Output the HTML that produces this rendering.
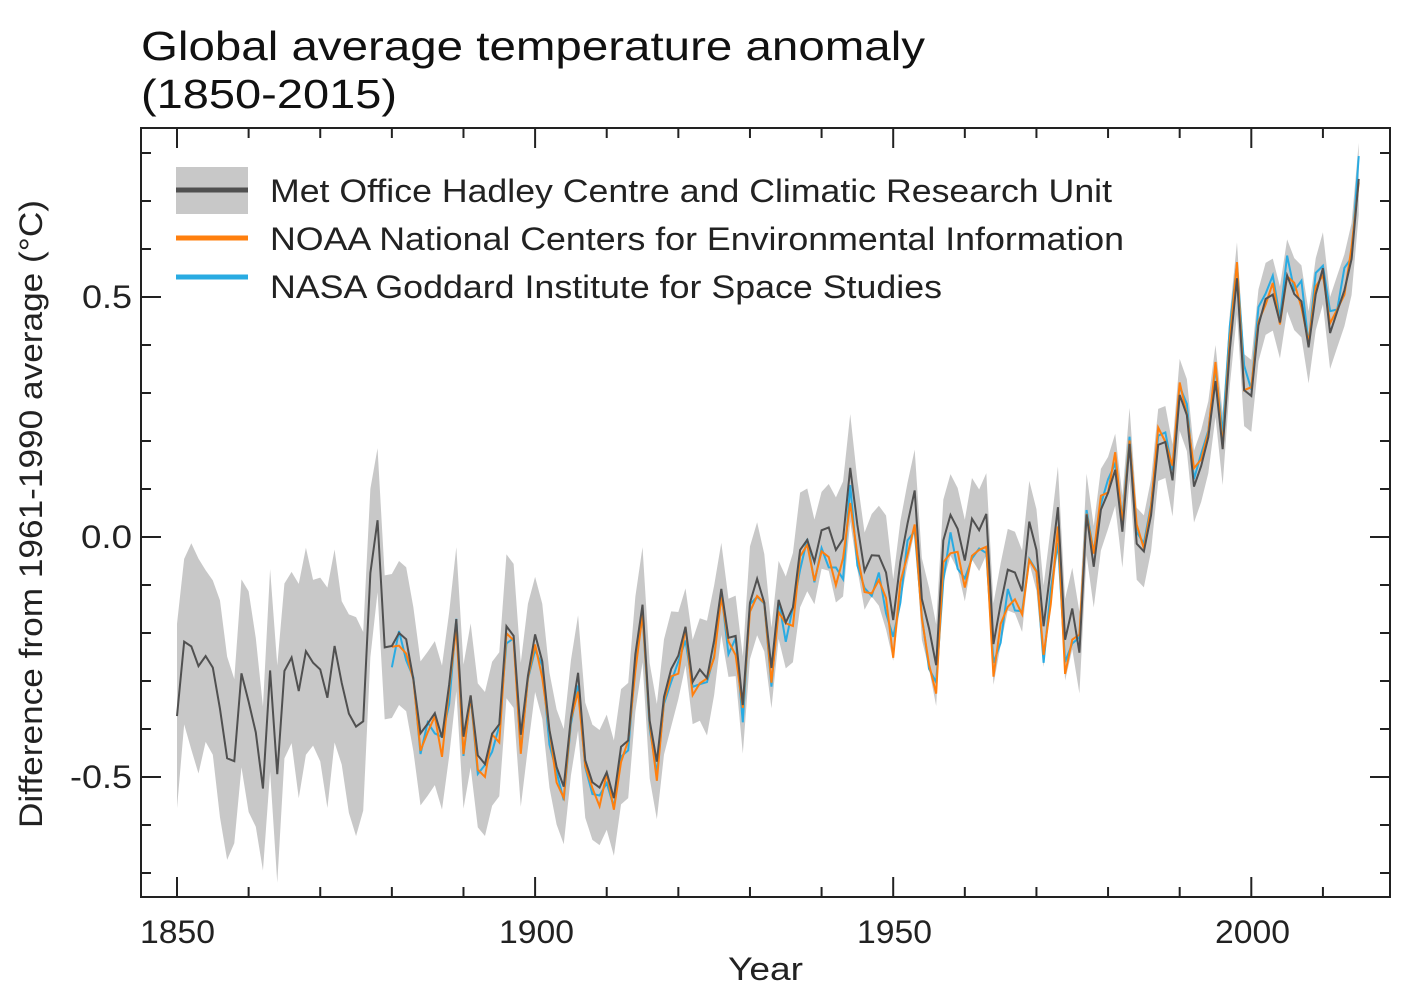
<!DOCTYPE html>
<html><head><meta charset="utf-8"><style>
html,body{margin:0;padding:0;background:#fff;}
svg{display:block;font-family:"Liberation Sans",sans-serif;}
</style></head><body>
<svg id="s" width="1403" height="998" viewBox="0 0 1403 998" xmlns="http://www.w3.org/2000/svg">
<text x="141" y="60" font-size="41" fill="#111" textLength="784" lengthAdjust="spacingAndGlyphs">Global average temperature anomaly</text>
<text x="141" y="108" font-size="41" fill="#111" textLength="256" lengthAdjust="spacingAndGlyphs">(1850-2015)</text>
<g id="plot"></g>
<rect x="141" y="128" width="1249" height="769" fill="none" stroke="#222" stroke-width="2"/>
<g font-size="32" fill="#222">
<text x="140" y="943" textLength="75" lengthAdjust="spacingAndGlyphs">1850</text>
<text x="499" y="943" textLength="75" lengthAdjust="spacingAndGlyphs">1900</text>
<text x="857" y="943" textLength="75" lengthAdjust="spacingAndGlyphs">1950</text>
<text x="1215" y="943" textLength="75" lengthAdjust="spacingAndGlyphs">2000</text>
<text x="728" y="980" textLength="75" lengthAdjust="spacingAndGlyphs">Year</text>
<text x="82" y="308" textLength="50" lengthAdjust="spacingAndGlyphs">0.5</text>
<text x="81" y="548" textLength="51" lengthAdjust="spacingAndGlyphs">0.0</text>
<text x="70" y="788" textLength="62" lengthAdjust="spacingAndGlyphs">-0.5</text>
<text transform="translate(42,514) rotate(-90)" x="-314" y="0" textLength="628" lengthAdjust="spacingAndGlyphs">Difference from 1961-1990 average (°C)</text>
</g>
<rect x="176" y="167" width="72" height="47" fill="#c8c8c8"/>
<line x1="176" y1="190" x2="248" y2="190" stroke="#505050" stroke-width="5"/>
<line x1="176" y1="238" x2="248" y2="238" stroke="#ff7f0e" stroke-width="5"/>
<line x1="176" y1="277" x2="248" y2="277" stroke="#29abe2" stroke-width="5"/>
<g font-size="32" fill="#222">
<text x="270" y="202" textLength="842" lengthAdjust="spacingAndGlyphs">Met Office Hadley Centre and Climatic Research Unit</text>
<text x="270" y="250" textLength="854" lengthAdjust="spacingAndGlyphs">NOAA National Centers for Environmental Information</text>
<text x="270" y="298" textLength="672" lengthAdjust="spacingAndGlyphs">NASA Goddard Institute for Space Studies</text>
</g>
</svg>
<script>
var h=[-0.373,-0.218,-0.228,-0.269,-0.248,-0.272,-0.358,-0.461,-0.467,-0.284,-0.343,-0.407,-0.524,-0.278,-0.494,-0.279,-0.251,-0.321,-0.238,-0.262,-0.276,-0.335,-0.227,-0.304,-0.368,-0.395,-0.384,-0.075,0.035,-0.230,-0.227,-0.200,-0.213,-0.296,-0.409,-0.389,-0.367,-0.418,-0.307,-0.171,-0.416,-0.330,-0.455,-0.473,-0.410,-0.390,-0.186,-0.206,-0.412,-0.289,-0.203,-0.259,-0.402,-0.479,-0.520,-0.377,-0.283,-0.465,-0.511,-0.522,-0.490,-0.544,-0.437,-0.424,-0.244,-0.141,-0.383,-0.468,-0.333,-0.275,-0.247,-0.187,-0.302,-0.276,-0.294,-0.215,-0.108,-0.210,-0.206,-0.350,-0.137,-0.087,-0.137,-0.273,-0.131,-0.178,-0.147,-0.027,-0.006,-0.052,0.014,0.020,-0.027,-0.004,0.144,0.025,-0.071,-0.038,-0.039,-0.074,-0.173,-0.052,0.028,0.097,-0.129,-0.190,-0.267,-0.007,0.046,0.017,-0.049,0.038,0.014,0.048,-0.223,-0.140,-0.068,-0.074,-0.113,0.032,-0.027,-0.186,-0.065,0.062,-0.214,-0.149,-0.241,0.047,-0.062,0.057,0.092,0.140,0.011,0.194,-0.014,-0.030,0.045,0.192,0.198,0.118,0.296,0.254,0.105,0.148,0.208,0.325,0.183,0.390,0.539,0.306,0.294,0.441,0.496,0.505,0.447,0.545,0.506,0.491,0.395,0.506,0.560,0.425,0.470,0.514,0.579,0.746];
function X(y){return 177+(y-1850)*7.162;}
function Y(v){return 537-v*480;}
function w(y){if(y<1878)return 0.2+0.03*Math.sin(y*1.7);if(y<1900)return 0.15;if(y<1920)return 0.12;if(y<1950)return 0.1+0.02*Math.sin(y);if(y<1980)return 0.085;return 0.075;}
function off(y){if(y<1940)return -0.02;if(y<1976)return -0.06;if(y<2000)return 0.02;return 0.005;}
var up=[],lo=[],hp=[],np=[],ap=[];
for(var i=0;i<h.length;i++){var y=1850+i;up.push(X(y)+","+Y(h[i]+w(y)));lo.unshift(X(y)+","+Y(h[i]-w(y)));hp.push(X(y)+","+Y(h[i]));
if(y>=1880){var n1=0.02*Math.sin(y*2.3),n2=0.025*Math.sin(y*3.1+1);np.push(X(y)+","+Y(h[i]+off(y)+n1));ap.push(X(y)+","+Y(h[i]+off(y)+n2+(y>1995?0.02:0)));}}
var g=document.getElementById("plot"),s="";
s+='<polygon points="'+up.concat(lo).join(" ")+'" fill="#c8c8c8"/>';
s+='<polyline points="'+ap.join(" ")+'" fill="none" stroke="#29abe2" stroke-width="2"/>';
s+='<polyline points="'+np.join(" ")+'" fill="none" stroke="#ff7f0e" stroke-width="2"/>';
s+='<polyline points="'+hp.join(" ")+'" fill="none" stroke="#505050" stroke-width="2"/>';
for(var v=-0.7;v<=0.81;v+=0.1){var yy=Y(v);if(yy<128||yy>897)continue;var maj=Math.abs(Math.round(v*10)%5)==0;var L=maj?20:10;
s+='<line x1="141" y1="'+yy+'" x2="'+(141+L)+'" y2="'+yy+'" stroke="#222" stroke-width="2"/>';
s+='<line x1="'+(1390-L)+'" y1="'+yy+'" x2="1390" y2="'+yy+'" stroke="#222" stroke-width="2"/>';}
for(var yr=1850;yr<=2020;yr+=10){var xx=X(yr);if(xx>1390)continue;var L=(yr%50==0)?20:10;
s+='<line x1="'+xx+'" y1="'+(897-L)+'" x2="'+xx+'" y2="897" stroke="#222" stroke-width="2"/>';
s+='<line x1="'+xx+'" y1="128" x2="'+xx+'" y2="'+(128+L)+'" stroke="#222" stroke-width="2"/>';}
g.innerHTML=s;
</script>
</body></html>
